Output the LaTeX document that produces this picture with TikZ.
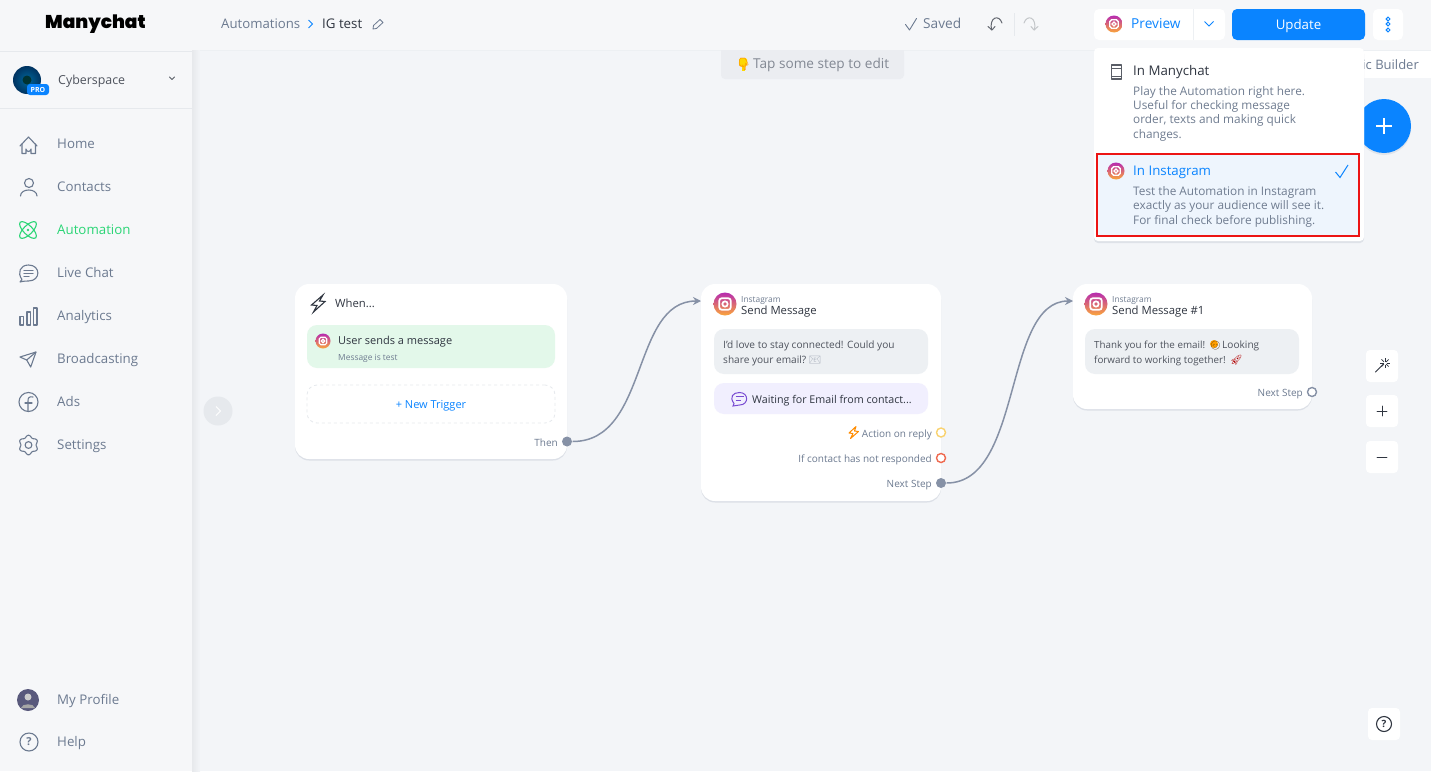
\documentclass[tikz,border=0pt]{standalone}
\usepackage{fontspec}
\setmainfont{Open Sans}
\newfontfamily\logofont{Poppins Black}
\newfontfamily\emojifont{Noto Emoji}
\usetikzlibrary{shadows,arrows.meta}
\definecolor{canvasbg}{HTML}{F3F5F8}
\definecolor{panelbg}{HTML}{F6F7F9}
\definecolor{rulegray}{HTML}{E6E9ED}
\definecolor{textgray}{HTML}{6C7A90}
\definecolor{textdark}{HTML}{2F3540}
\definecolor{subgray}{HTML}{6F7C90}
\definecolor{brandblue}{HTML}{0A84FF}
\definecolor{brandgreen}{HTML}{2BD576}
\definecolor{wirecolor}{HTML}{8691A6}
\definecolor{bubblegray}{HTML}{EDF0F3}
\definecolor{triggergreen}{HTML}{E3F8EA}
\definecolor{waitpurple}{HTML}{F1EFFE}
\definecolor{igpurple}{HTML}{B72BB0}
\definecolor{igpink}{HTML}{EC3C6E}
\definecolor{igorange}{HTML}{FBA63A}
\definecolor{pickblue}{HTML}{EEF5FD}
\definecolor{softshadow}{HTML}{DCE0E7}
\definecolor{pickred}{HTML}{EC1414}
\definecolor{replyyellow}{HTML}{F9D26F}
\definecolor{noreplyred}{HTML}{EF6A50}
\newcommand\fsz[1]{\fontsize{#1}{#1}\selectfont}
% instagram mark: x, y, radius
\newcommand\igmark[3]{
    \begin{scope}[shift={(#1,#2)}]
        \shade[top color=igpurple,middle color=igpink,bottom color=igorange] (0,0) circle (#3);
        \draw[white,line width=0.15*#3 pt,rounded corners=0.22*#3 pt] ({-.5*#3},{-.5*#3}) rectangle ({.5*#3},{.5*#3});
        \draw[white,line width=0.15*#3 pt] (0,0) circle ({.23*#3});
    \end{scope}
}
\tikzset{
    lbl/.style={anchor=west,inner sep=0pt,text height=.96em,text depth=0em},
    rlbl/.style={lbl,anchor=east},
    menuitem/.style={lbl,font=\fsz{13.3},text=textgray},
    card/.style={draw=none,fill=white,rounded corners=14pt,inner sep=0pt,drop shadow={shadow xshift=0pt,shadow yshift=-1.5pt,fill=softshadow,opacity=1}},
    boxy/.style={inner sep=0pt,rounded corners=10pt},
    toolbtn/.style={fill=white,rounded corners=4pt,inner sep=0pt,minimum size=32pt},
    icon/.style={draw=textgray,line width=1.1pt,line join=round,line cap=round},
    port/.style={circle,inner sep=0pt,minimum size=9pt,line width=1.4pt},
    wire/.style={draw=wirecolor,line width=1.5pt,-{Stealth[length=8pt,width=8pt]}},
    small/.style={lbl,font=\fsz{8.4},text=subgray},
    cardtitle/.style={lbl,font=\fsz{11.3},text=textdark},
    msgline/.style={lbl,font=\fsz{10.1},text=textdark!85},
    outlbl/.style={rlbl,font=\fsz{10},text=textgray},
    desc/.style={lbl,font=\fsz{11.8},text=subgray}
}
\begin{document}
\begin{tikzpicture}[x=1pt,y=-1pt]
    \useasboundingbox (0,0) rectangle (1431,771);
    \fill[canvasbg] (0,0) rectangle (1431,771);
    % panels
    \fill[panelbg] (192,0) rectangle (1431,50);
    \draw[rulegray!70,line width=.8pt] (192,50.5) -- (1431,50.5);
    \shade[left color=black!5!canvasbg,right color=canvasbg] (192,50) rectangle (200,771);
    \fill[panelbg] (0,0) rectangle (192,771);
    \draw[rulegray,line width=.8pt] (0,51.5) -- (192,51.5);
    \draw[rulegray,line width=.8pt] (0,108.5) -- (192,108.5);

    % sidebar
    \node[lbl,font=\logofont\fsz{18.5},text=black] (logo) at (45,24) {Manychat};
    \shade[inner color=teal!80!blue,outer color=black!70!blue!60!teal] (27,80) circle (14);
    \fill[black!60!teal] (27,80) circle (4.5);
    \node[fill=brandblue,rounded corners=3pt,inner sep=0pt,minimum width=22pt,minimum height=11pt,font=\bfseries\fsz{7},text=white] (probadge) at (38,89.5) {PRO};
    \node[lbl,font=\fsz{12.4},text=textdark!85] (workspace) at (58,80) {Cyberspace};
    \draw[icon,draw=textdark!80,line width=.9pt] (169.5,77) -- (172,79.5) -- (174.5,77);

    \foreach \y/\t/\n in {144/Home/home,187/Contacts/contacts,273/Live Chat/livechat,316/Analytics/analytics,359/Broadcasting/broadcasting,402/Ads/ads,445/Settings/settings,700/My Profile/profile,742/Help/help}
        \node[menuitem] (\n) at (57,\y) {\t};
    \node[menuitem,text=brandgreen] (automation) at (57,230) {Automation};

    % menu icons
    \draw[icon] (20,146) -- (28.5,137) -- (37,146);
    \draw[icon] (22,144) -- (22,153.5) -- (26,153.5) -- (26,149) arc (180:0:2.5) -- (31,153.5) -- (35.5,153.5) -- (35.5,144);
    \draw[icon] (29,183) circle (4.5);
    \draw[icon] (20.5,196) .. controls (20.5,188) and (37,188) .. (37,196);
    \begin{scope}[shift={(28,230)}]
        \draw[icon,draw=brandgreen,rotate=45] (0,0) ellipse (11 and 4.5);
        \draw[icon,draw=brandgreen,rotate=-45] (0,0) ellipse (11 and 4.5);
        \fill[brandgreen] (0,0) circle (1.4);
    \end{scope}
    \draw[icon] (22,279.5) .. controls (17,273) and (20,265) .. (28.5,265) .. controls (41,265) and (41,281) .. (28.5,281) .. controls (26,281) and (24,281) .. (20,282) -- (22,279.5);
    \draw[icon] (24,270.5) -- (33,270.5) (24,273.5) -- (33,273.5) (24,276.5) -- (29,276.5);
    \draw[icon] (20,316.5) rectangle (23.5,325);
    \draw[icon] (27,312) rectangle (30.5,325);
    \draw[icon] (33.5,308) rectangle (37,325);
    \draw[icon] (20,357) -- (36,352) -- (30.7,367) -- (26.7,360) -- cycle;
    \draw[icon] (26.7,360) -- (36,352);
    \draw[icon] (28.5,402) circle (9.5);
    \draw[icon] (33,397) .. controls (29,396) and (28,398) .. (28,401) -- (28,411);
    \draw[icon] (25,403) -- (32,403);
    \draw[icon] plot[domain=0:360,samples=73,smooth] ({28.5+(8.7+1.1*cos(6*\x+180))*cos(\x)},{445+(8.7+1.1*cos(6*\x+180))*sin(\x)});
    \draw[icon] (28.5,445) circle (3.4);
    \fill[black!55!blue!30!gray] (28,700) circle (11);
    \fill[black!20] (28,697) circle (3.5);
    \fill[black!35] (21,708) .. controls (22,703) and (34,703) .. (35,708) -- cycle;
    \draw[icon] (29,742) circle (9);
    \node[font=\bfseries\fsz{11},text=textgray,inner sep=0pt] (helpmark) at (29,742) {?};

    % collapse handle
    \node[circle,fill=rulegray,minimum size=29pt,inner sep=0pt] (expand) at (218,411) {};
    \draw[white,line width=1pt] (216,406.5) -- (220.5,411) -- (216,415.5);

    % top bar
    \node[lbl,font=\fsz{13.2},text=textgray] (crumb) at (221,24) {Automations};
    \draw[brandblue,line width=1pt] (308.5,20) -- (312.5,24) -- (308.5,28);
    \node[lbl,font=\fsz{13.3},text=textdark] (flowname) at (322,24) {IG test};
    \draw[icon,line width=.8pt] (373,29) -- (373.5,25.5) -- (380,19.5) -- (383,22.5) -- (376.5,28.5) -- cycle;
    \draw[icon,line width=.9pt] (905.5,24.5) -- (909.5,30) -- (916.5,18.5);
    \node[lbl,font=\fsz{13.7},text=textgray] (saved) at (923,24) {Saved};
    \draw[icon,draw=textdark!75,line width=1pt] (992,30) -- (988,26.5) (992,30) -- (995,26.5);
    \draw[icon,draw=textdark!75,line width=1pt] (991.5,30) .. controls (989,17) and (999,14) .. (1002,23);
    \draw[rulegray,line width=.8pt] (1014,13) -- (1014,36);
    \draw[icon,draw=rulegray!85!black,line width=1pt] (1034,30) -- (1038,26.5) (1034,30) -- (1031,26.5);
    \draw[icon,draw=rulegray!85!black,line width=1pt] (1034.5,30) .. controls (1037,17) and (1027,14) .. (1024,23);

    % hint bar
    \node[fill=rulegray!80,inner sep=0pt,minimum width=183pt,minimum height=29pt,rounded corners=4pt] (hintbar) at (812.5,64.5) {};
    \fill[rulegray!80] (721,50) rectangle (904,60);
    \fill[yellow!75!orange,rounded corners=1.5pt] (739,58) rectangle (747,66.5);
    \fill[yellow!75!orange] (741.5,65) rectangle (744.5,71);
    \node[lbl,font=\emojifont\fsz{12},text=orange] (hintpoint) at (736,64) {👇};
    \node[lbl,font=\fsz{13.6},text=black!30!textgray!70] (hinttext) at (753,64) {Tap some step to edit};

    % canvas buttons
    \node[fill=white,inner sep=0pt,minimum width=67pt,minimum height=27pt] (builderbox) at (1397.5,64.5) {};
    \node[rlbl,font=\fsz{13},text=textgray] (buildertext) at (1419,64.5) {ic Builder};
    \node[circle,fill=brandblue,minimum size=54pt,inner sep=0pt,drop shadow={shadow xshift=0pt,shadow yshift=-2pt,fill=softshadow,opacity=.8}] (addstep) at (1384,126) {};
    \draw[white,line width=1.5pt] (1376,126) -- (1392,126) (1384,118) -- (1384,134);
    \node[toolbtn] (wandbtn) at (1382,366) {};
    \node[toolbtn] (zoominbtn) at (1382,411) {};
    \node[toolbtn] (zoomoutbtn) at (1382,457) {};
    \node[toolbtn] (helpbtn) at (1384,724) {};
    \draw[icon,draw=textdark,line width=.9pt] (1375.5,372) -- (1383,364.5);
    \foreach \a in {0,45,...,315}
        \draw[textdark,line width=.7pt] (1385,363)+(\a:1.5) -- +(\a:5);
    \draw[icon,draw=textdark,line width=.9pt] (1377,411) -- (1387,411) (1382,406) -- (1382,416);
    \draw[icon,draw=textdark,line width=.9pt] (1377,457) -- (1387,457);
    \draw[icon,draw=textdark] (1384,724) circle (7.5);
    \node[font=\bfseries\fsz{10},text=textdark,inner sep=0pt] (helpbtnmark) at (1384,724) {?};

    % preview buttons
    \node[fill=white,rounded corners=5pt,inner sep=0pt,minimum width=131pt,minimum height=31pt] (previewbtn) at (1159.5,24.5) {};
    \draw[rulegray!70,line width=.8pt] (1193.5,9) -- (1193.5,40);
    \igmark{1114}{24}{8.5}
    \node[lbl,font=\fsz{13.7},text=brandblue] (previewtext) at (1131,24) {Preview};
    \draw[brandblue,line width=1pt] (1204.5,21.5) -- (1209,26) -- (1213.5,21.5);
    \node[fill=brandblue,rounded corners=5pt,inner sep=0pt,minimum width=133pt,minimum height=31pt,font=\fsz{13.3},text=white,text height=.96em,text depth=0em] (updatebtn) at (1298.5,24.5) {Update};
    \node[fill=white,rounded corners=5pt,inner sep=0pt,minimum width=30pt,minimum height=31pt] (morebtn) at (1388,24.5) {};
    \foreach \y in {19,24,30}
        \draw[brandblue,line width=.9pt] (1388,\y) circle (1.9);

    % dropdown
    \node[fill=white,rounded corners=4pt,inner sep=0pt,minimum width=270pt,minimum height=193pt,drop shadow={shadow xshift=0pt,shadow yshift=-2pt,fill=softshadow,opacity=.9}] (dropdown) at (1229,144.5) {};
    \draw[icon,draw=textdark!80] (1111.5,65) rectangle (1121.5,79);
    \draw[icon,draw=textdark!80,line width=.8pt] (1111.5,68) -- (1121.5,68) (1111.5,76) -- (1121.5,76);
    \node[lbl,font=\fsz{13.3},text=textdark] (manychathead) at (1133,71) {In Manychat};
    \node[desc] (mc1) at (1133,91) {Play the Automation right here.};
    \node[desc] (mc2) at (1133,105) {Useful for checking message};
    \node[desc] (mc3) at (1133,119) {order, texts and making quick};
    \node[desc] (mc4) at (1133,134) {changes.};
    \node[draw=pickred,line width=2pt,fill=pickblue,inner sep=0pt,minimum width=262pt,minimum height=82pt] (pickbox) at (1228,194.5) {};
    \igmark{1116}{171}{8.5}
    \node[lbl,font=\fsz{13.3},text=brandblue] (instagramhead) at (1133,171) {In Instagram};
    \draw[brandblue,line width=1pt] (1335.5,172) -- (1340,177.5) -- (1348,165);
    \node[desc] (ig1) at (1133,191) {Test the Automation in Instagram};
    \node[desc] (ig2) at (1133,205) {exactly as your audience will see it.};
    \node[desc] (ig3) at (1133,220) {For final check before publishing.};

    % trigger card
    \node[card,minimum width=272pt,minimum height=175pt] (whencard) at (431,371.5) {};
    \draw[icon,draw=textdark,line join=miter] (323,295) -- (311.5,305) -- (317,305.5) -- (313.5,312) -- (325,301.5) -- (319.5,301) -- cycle;
    \node[cardtitle] (whentext) at (335,303) {When...};
    \node[boxy,fill=triggergreen,minimum width=248pt,minimum height=43pt] (triggerbox) at (431,346.5) {};
    \igmark{323}{341}{7.5}
    \node[cardtitle,font=\fsz{11}] (triggertext) at (338,340) {User sends a message};
    \node[small] (triggersub) at (338,356) {Message is test};
    \node[boxy,draw=rulegray,dashed,line width=.8pt,minimum width=248pt,minimum height=38pt,font=\fsz{11},text=brandblue,text height=.96em,text depth=0em] (newtrigger) at (431,404) {+ New Trigger};
    \node[outlbl] (thentext) at (558,442) {Then};

    % message card
    \node[card,minimum width=240pt,minimum height=217pt] (askcard) at (821,392.5) {};
    \igmark{725}{304}{11.5}
    \node[small] (askplatform) at (741,298) {Instagram};
    \node[cardtitle] (asktitle) at (741,310) {Send Message};
    \node[boxy,fill=bubblegray,minimum width=214pt,minimum height=45pt] (askbubble) at (821,351.5) {};
    \node[msgline] (askline1) at (723,344) {I'd love to stay connected! Could you};
    \node[msgline] (askline2) at (723,359) {share your email?};
    \node[lbl,font=\emojifont\fsz{10},text=subgray!60] (askmail) at (808.5,359) {📧};
    \node[boxy,fill=waitpurple,minimum width=214pt,minimum height=31pt] (waitbox) at (821,398.5) {};
    \draw[draw=violet!50!blue!70,line width=1pt] (734,403.5) .. controls (729,397) and (733,392.5) .. (739.5,392.5) .. controls (749,392.5) and (749,405) .. (739.5,405) .. controls (737,405) and (735.5,405) .. (733,406) -- cycle;
    \draw[violet!50!blue!70,line width=.9pt] (735.5,396.5) -- (743.5,396.5) (735.5,400) -- (741,400);
    \node[cardtitle,font=\fsz{10.7}] (waittext) at (752,399) {Waiting for Email from contact...};
    \draw[orange!90!yellow,line width=1pt,line join=round] (856,426.5) -- (849,433) -- (853,433.5) -- (850.5,438.5) -- (858.5,431.5) -- (854.5,431) -- cycle;
    \node[outlbl] (replytext) at (932,433) {Action on reply};
    \node[outlbl] (noreplytext) at (932,458) {If contact has not responded};
    \node[outlbl] (asknexttext) at (932,483) {Next Step};

    % thanks card
    \node[card,minimum width=239pt,minimum height=125pt] (thankscard) at (1192.5,346.5) {};
    \igmark{1096}{304}{11.5}
    \node[small] (thanksplatform) at (1112,298) {Instagram};
    \node[cardtitle] (thankstitle) at (1112,310) {Send Message \#1};
    \node[boxy,fill=bubblegray,minimum width=214pt,minimum height=45pt] (thanksbubble) at (1192,351.5) {};
    \node[msgline,font=\fsz{9.8}] (thanksline1) at (1094,344) {Thank you for the email!};
    \fill[orange!75!yellow] (1214,344) circle (4);
    \node[lbl,font=\emojifont\fsz{8.5},text=black!70!orange] (thankssmile) at (1209.8,344) {😊};
    \node[msgline] (thanksline3) at (1222,344) {Looking};
    \node[msgline,font=\fsz{9.8}] (thanksline2) at (1094,359) {forward to working together!};
    \node[lbl,font=\emojifont\fsz{10},text=red!70!black] (thanksrocket) at (1230,359) {🚀};
    \node[outlbl] (thanksnexttext) at (1303,392) {Next Step};

    % ports
    \node[port,fill=wirecolor,minimum size=10pt] (thenport) at (567,441.5) {};
    \node[port,draw=replyyellow,fill=white] (replyport) at (941,432.5) {};
    \node[port,draw=noreplyred,fill=white] (noreplyport) at (941,458) {};
    \node[port,fill=wirecolor,minimum size=10pt] (asknextport) at (941,483) {};
    \node[port,draw=wirecolor,fill=white] (thanksnextport) at (1312,392) {};
    \coordinate (askin) at (701,301);
    \coordinate (thanksin) at (1073,301);

    % connectors
    \draw[wire] (thenport) .. controls +(82,0) and +(-70,0) .. (askin);
    \draw[wire] (asknextport) .. controls +(82,0) and +(-70,0) .. (thanksin);
\end{tikzpicture}
\end{document}
